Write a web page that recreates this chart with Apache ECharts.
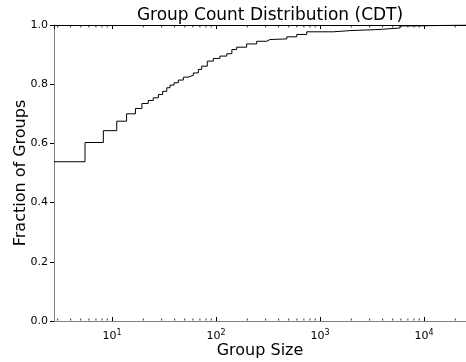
<!DOCTYPE html>
<html>
<head>
<meta charset="utf-8">
<script src="https://cdn.jsdelivr.net/npm/echarts@6/dist/echarts.min.js"></script>
<style>html,body{margin:0;padding:0;background:#fff;}#c{width:466px;height:362px;}</style>
</head>
<body>
<div id="c"></div>
<script>
var groupSizes = [2.77, 5.5, 8.25, 11.1, 13.8, 16.8, 19.4, 22.3, 24.9, 27.9, 30.7, 33.6, 36.1, 39.5, 43.4, 48.5, 54.2, 60.5, 67.6, 72.8, 82.4, 94.2, 109, 127, 142, 158, 197, 246, 307, 331, 479, 597, 745, 1343, 1941, 3776, 5875, 8511, 25350];
var fractions = [0.538, 0.603, 0.643, 0.675, 0.700, 0.718, 0.735, 0.745, 0.754, 0.765, 0.776, 0.788, 0.797, 0.805, 0.814, 0.824, 0.830, 0.838, 0.850, 0.861, 0.878, 0.887, 0.895, 0.903, 0.917, 0.925, 0.936, 0.945, 0.951, 0.953, 0.960, 0.968, 0.977, 0.981, 0.985, 0.990, 0.997, 1.0, 1.0];
var xMin = 2.767, xMax = 25350;
var yTicks = [0, 0.2, 0.4, 0.6, 0.8, 1.0];
var minorTickValues = [3,4,5,6,7,8,9,20,30,40,50,60,70,80,90,200,300,400,500,600,700,800,900,2000,3000,4000,5000,6000,7000,8000,9000,20000];

var font = 'DejaVu Sans';
var lineData = groupSizes.map(function (s, i) { return [s, fractions[i]]; });
var minorBottom = minorTickValues.map(function (v) { return [v, 0]; });
var minorTop = minorTickValues.map(function (v) { return [v, 1]; });

function fmt(v) {
  var l = Math.log(v) / Math.LN10;
  var r = Math.round(l);
  if (Math.abs(l - r) < 1e-6) return '10{s|' + r + '}';
  return '';
}

var chart = echarts.init(document.getElementById('c'), null, {renderer: 'canvas'});
chart.setOption({
  animation: false,
  backgroundColor: '#fff',
  title: {
    text: 'Group Count Distribution (CDT)',
    left: 265, top: 2, textAlign: 'center',
    textStyle: {fontFamily: font, fontSize: 17, fontWeight: 'normal', color: '#000'}
  },
  grid: {left: 54, right: 0, top: 25, height: 296, containLabel: false, outerBoundsMode: 'none'},
  xAxis: [{
    type: 'log', min: xMin, max: xMax, logBase: 10,
    name: 'Group Size', nameLocation: 'middle', nameGap: 22, nameMoveOverlap: false,
    nameTextStyle: {fontFamily: font, fontSize: 16, color: '#000'},
    axisLine: {show: true, lineStyle: {color: '#808080', width: 1}},
    axisTick: {show: true, inside: true, length: 4, lineStyle: {color: '#000'}},
    axisLabel: {
      formatter: fmt, margin: 8, showMinLabel: false, showMaxLabel: false,
      fontFamily: font, fontSize: 11, color: '#000',
      rich: {s: {fontFamily: font, fontSize: 8, verticalAlign: 'bottom', padding: [0, 0, 7, 0], color: '#000'}}
    },
    splitLine: {show: false}
  }, {
    type: 'log', min: xMin, max: xMax, logBase: 10, position: 'top',
    axisLine: {show: true, lineStyle: {color: '#000', width: 1}},
    axisTick: {show: true, inside: true, length: 4, lineStyle: {color: '#000'}},
    axisLabel: {show: false},
    splitLine: {show: false}
  }],
  yAxis: {
    type: 'value', min: 0, max: 1, interval: 0.2,
    name: 'Fraction of Groups', nameLocation: 'middle', nameGap: 25, nameRotate: 90, nameMoveOverlap: false,
    nameTextStyle: {fontFamily: font, fontSize: 16, color: '#000'},
    axisLine: {show: true, lineStyle: {color: '#808080', width: 1}},
    axisTick: {show: true, inside: false, length: 4, lineStyle: {color: '#000'}},
    axisLabel: {
      margin: 6, fontFamily: font, fontSize: 11, color: '#000',
      formatter: function (v) { return v.toFixed(1); }
    },
    splitLine: {show: false}
  },
  series: [{
    type: 'line', step: 'end', data: lineData, xAxisIndex: 0,
    showSymbol: false, symbol: 'none', clip: true,
    lineStyle: {color: '#000', width: 1}
  }, {
    type: 'scatter', data: minorBottom, xAxisIndex: 0, silent: true,
    symbol: 'rect', symbolSize: [1, 2], symbolOffset: [0, -1.5],
    itemStyle: {color: '#000'}, clip: false
  }, {
    type: 'scatter', data: minorTop, xAxisIndex: 0, silent: true,
    symbol: 'rect', symbolSize: [1, 2], symbolOffset: [0, 1.5],
    itemStyle: {color: '#000'}, clip: false
  }]
});
</script>
</body>
</html>
